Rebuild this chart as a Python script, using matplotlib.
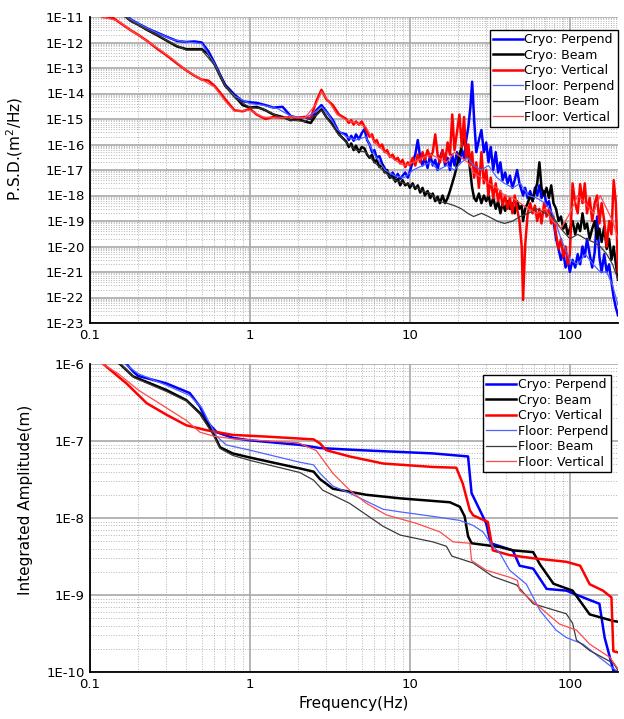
import matplotlib
matplotlib.use("Agg")
import matplotlib.pyplot as plt
from matplotlib.ticker import LogLocator, FixedLocator, FuncFormatter, NullFormatter
import numpy as np

plt.rcParams['font.family'] = ['DejaVu Sans']

labels = ["Cryo: Perpend", "Cryo: Beam", "Cryo: Vertical",
          "Floor: Perpend", "Floor: Beam", "Floor: Vertical"]

# ---- PSD (top), cryostat: low and high frequency parts ----
psd_f_cryo_lo = [0.12, 0.14, 0.16, 0.18, 0.2, 0.23, 0.26, 0.3, 0.35, 0.4, 0.45, 0.5, 0.55, 0.6,
                 0.65, 0.7, 0.8, 0.9, 1.0, 1.1, 1.25, 1.4, 1.6, 1.8, 2.0, 2.2, 2.4, 2.6, 2.8,
                 3.0, 3.3, 3.6]
psd_f_cryo_hi = [4.0, 4.15, 4.3, 4.45, 4.6, 4.8, 5.0, 5.2, 5.4, 5.6, 5.8, 6.0, 6.2, 6.45, 6.7,
                 6.95, 7.2, 7.5, 7.8, 8.1, 8.4, 8.7, 9.0, 9.35, 9.7, 10.0,
                 10.4, 10.8, 11.2, 11.6, 12.0, 12.4, 12.9, 13.4, 13.9, 14.4, 14.9, 15.4, 16.0,
                 16.6, 17.2, 17.8, 18.4, 19.0, 19.7, 20.4,
                 21.1, 21.8, 22.5, 23.2, 23.9, 24.5, 25.2, 26.0, 27.0, 28.0, 29.0, 30.0,
                 31, 32, 33.2, 34.4, 35.6, 36.8, 38, 39.4, 40.8, 42.2, 43.7, 45.2, 46.8, 48.4, 50,
                 51, 52.5, 54.5, 56.5, 58.5, 60.5, 62.5, 64.5, 66.5, 69, 71.5, 74, 76.5, 79, 82,
                 85, 88, 91, 94, 97, 100,
                 104, 108, 112, 116, 120, 124, 128, 133, 138, 143, 148, 153, 158, 164, 170, 176,
                 182, 188, 194, 200]

psd_cryo_perp_lo = [3e-11, 2.5e-11, 1.6e-11, 8e-12, 5.5e-12, 3.5e-12, 2.5e-12, 1.7e-12, 1.15e-12,
                    1.05e-12, 1.1e-12, 1.0e-12, 4.5e-13, 1.6e-13, 5.5e-14, 2.2e-14, 9e-15, 5e-15,
                    4.5e-15, 4.3e-15, 3.5e-15, 2.8e-15, 3e-15, 1.3e-15, 1.1e-15, 1.2e-15, 1.0e-15,
                    2.2e-15, 3.5e-15, 2e-15, 9e-16, 3e-16]
psd_cryo_perp_hi = [2.5e-16, 1.5e-16, 2.2e-16, 1.4e-16, 2.5e-16, 1.6e-16, 2.8e-16, 4e-16, 1.5e-16,
                    1e-16, 5e-17, 6e-17, 3e-17, 3.5e-17, 1.8e-17, 1.2e-17, 8e-18, 5e-18, 8e-18,
                    5e-18, 7e-18, 4.5e-18, 6e-18, 8e-18, 5e-18, 9e-18,
                    2e-17, 4e-17, 1.5e-16, 3e-17, 1.5e-17, 3e-17, 1.2e-17, 4e-17, 1.5e-17, 2.5e-17,
                    1e-17, 3e-17, 6e-17, 1.5e-17, 3e-17, 1e-17, 4e-17, 1.5e-17, 5e-17, 2e-17,
                    6e-17, 3e-17, 1.5e-16, 5e-16, 3e-15, 2.9e-14, 1e-15, 5e-17, 1.5e-16, 3.7e-16,
                    5e-17, 1.2e-16,
                    2e-17, 8e-17, 1e-17, 5e-17, 8e-18, 2e-17, 4e-18, 8e-18, 3e-18, 6e-18, 2e-18,
                    4e-18, 1e-17, 3e-18, 1.5e-18,
                    1e-18, 2e-18, 8e-19, 1.5e-18, 6e-19, 2e-18, 1e-18, 2.5e-18, 8e-19, 1.5e-18,
                    4e-19, 6e-19, 2e-19, 1e-19, 2e-20, 8e-21, 3e-21, 6e-21, 1.5e-21, 3e-21, 1e-21,
                    3e-21, 1.5e-21, 5e-21, 2e-21, 1e-20, 4e-21, 2e-20, 5e-21, 1.5e-21, 6e-21,
                    1.5e-19, 4e-21, 1e-21, 5e-21, 1e-21, 2e-21, 4e-22, 1e-22, 4e-23, 2e-23]

psd_cryo_beam_lo = [3e-11, 2e-11, 1.3e-11, 7e-12, 5e-12, 3e-12, 2e-12, 1.2e-12, 7e-13, 5.5e-13,
                    5.5e-13, 5.5e-13, 3.5e-13, 1.4e-13, 5e-14, 2e-14, 8e-15, 3.5e-15, 2.8e-15,
                    3e-15, 2.2e-15, 1.5e-15, 1.2e-15, 9e-16, 1e-15, 8e-16, 7e-16, 1.5e-15, 2.4e-15,
                    1.2e-15, 6e-16, 2.5e-16]
psd_cryo_beam_hi = [1.3e-16, 8e-17, 1.1e-16, 6e-17, 9e-17, 5e-17, 8e-17, 7e-17, 4e-17, 3e-17,
                    4e-17, 2e-17, 2.5e-17, 1.3e-17, 1.6e-17, 8e-18, 1e-17, 5e-18, 6e-18, 3.5e-18,
                    4.5e-18, 2.5e-18, 4e-18, 2.5e-18, 3e-18, 2e-18,
                    3e-18, 1.8e-18, 2.5e-18, 1.3e-18, 2e-18, 1e-18, 1.5e-18, 8e-19, 1.2e-18, 6e-19,
                    9e-19, 5e-19, 1e-18, 5e-19, 8e-19, 1.5e-18, 3e-18, 6e-18, 1.5e-17, 4e-17,
                    8e-17, 1.7e-16, 1e-16, 4e-17, 8e-18, 2e-18, 8e-19, 6e-19, 1.2e-18, 5e-19, 1e-18,
                    6e-19,
                    1e-18, 4e-19, 8e-19, 3e-19, 6e-19, 2e-19, 5e-19, 2.5e-19, 6e-19, 3e-19,
                    5e-19, 2e-19, 6e-19, 3e-19, 4e-19,
                    1e-19, 3e-19, 5e-19, 1e-18, 6e-19, 1.5e-18, 3e-18, 2e-17, 2e-18, 1e-18, 2e-18,
                    8e-19, 2.5e-18, 5e-19, 3e-19, 1e-19, 1.5e-19, 5e-20, 8e-20, 3e-20, 5e-20,
                    1e-19, 3e-20, 8e-20, 4e-20, 2e-19, 5e-20, 8e-20, 2e-20, 5e-20, 1e-19, 2e-20,
                    5e-20, 1.5e-20, 6e-20, 8e-21, 2e-20, 3e-21, 1e-20, 2e-21, 5e-22]

psd_cryo_vert_lo = [1e-11, 9e-12, 5e-12, 3e-12, 2e-12, 1.1e-12, 6e-13, 3.2e-13, 1.5e-13, 8e-14,
                    5e-14, 3.5e-14, 3.2e-14, 2e-14, 1.1e-14, 6e-15, 2.2e-15, 2e-15, 2.5e-15,
                    1.5e-15, 1e-15, 1.2e-15, 1.1e-15, 1.2e-15, 1.1e-15, 1.2e-15, 1.1e-15, 5e-15,
                    1.4e-14, 6e-15, 3.5e-15, 1.5e-15]
psd_cryo_vert_hi = [1e-15, 7e-16, 9e-16, 6e-16, 8e-16, 6e-16, 8e-16, 5e-16, 3e-16, 2e-16,
                    2.5e-16, 1.2e-16, 1.5e-16, 8e-17, 1e-16, 5e-17, 6e-17, 3.3e-17, 4e-17, 2.5e-17,
                    3e-17, 1.8e-17, 2.5e-17, 1.3e-17, 2e-17, 1.5e-17,
                    3e-17, 1.5e-17, 4e-17, 2e-17, 5e-17, 2.5e-17, 6e-17, 3e-17, 5e-17, 2.5e-16,
                    4e-17, 2e-17, 6e-17, 2e-17, 1.2e-16, 4e-17, 1.5e-15, 6e-17, 3e-16, 1.5e-15,
                    8e-17, 1.2e-15, 3e-17, 1e-16, 1.5e-17, 5e-17, 5e-18, 2e-17, 2e-18, 5e-17,
                    3e-18, 1e-17,
                    1e-18, 5e-18, 8e-19, 3e-18, 6e-19, 1.5e-18, 4e-19, 1e-18, 3e-19, 8e-19, 2e-19,
                    1e-18, 3e-19, 1e-19, 1e-20,
                    8e-23, 1e-20, 2e-19, 5e-19, 2e-19, 4e-19, 1e-19, 3e-19, 8e-20, 5e-19, 1.5e-19,
                    3e-19, 8e-20, 1.5e-19, 3e-20, 8e-21, 2e-20, 4e-21, 1e-20, 2e-21, 5e-21,
                    3e-18, 5e-19, 2e-19, 2.8e-18, 5e-19, 3e-18, 2e-19, 8e-19, 1e-19, 5e-19, 1e-18,
                    8e-20, 5e-19, 1e-19, 1e-20, 1e-19, 3e-20, 4e-18, 5e-19, 1e-21]

# ---- PSD (top), floor ----
psd_f_floor = [0.12, 0.15, 0.18, 0.22, 0.27, 0.33, 0.4, 0.5, 0.6, 0.7, 0.8, 1.0, 1.2, 1.5, 1.8,
               2.2, 2.6, 2.8, 3.1, 3.5, 4.0, 4.6, 5.3, 6.0, 7.0, 8.0, 9.2, 10.5, 12, 13.5, 15,
               17, 19, 21, 23, 25, 28, 31, 35, 39, 44, 49, 55, 62, 70, 78, 88, 100, 112, 125,
               140, 155, 170, 185, 200]

psd_floor_perp = [2.5e-11, 1.8e-11, 8e-12, 4e-12, 2.2e-12, 1.3e-12, 1.05e-12, 9e-13, 1.5e-13,
                  2e-14, 8e-15, 4e-15, 3.5e-15, 2.5e-15, 1.3e-15, 1.1e-15, 2e-15, 3e-15,
                  1.5e-15, 4e-16, 2e-16, 1.5e-16, 2e-16, 4e-17, 1e-17, 6e-18, 5e-18, 1e-17,
                  1.5e-17, 2e-17, 1e-17, 1.5e-17, 1e-17, 2e-17, 3e-17, 1.5e-17, 1e-17, 1.5e-17,
                  5e-18, 3e-18, 2e-18, 3e-18, 1e-18, 8e-19, 5e-19, 2e-19, 2e-20, 3e-21, 2e-21,
                  5e-21, 2e-21, 1e-21, 1e-21, 3e-22, 5e-23]

psd_floor_beam = [2.5e-11, 1.6e-11, 7e-12, 3.5e-12, 1.8e-12, 9e-13, 5e-13, 5e-13, 1.3e-13,
                  2e-14, 7e-15, 2.8e-15, 2.5e-15, 1.3e-15, 9e-16, 8e-16, 1.4e-15, 2.2e-15,
                  9e-16, 3e-16, 1.2e-16, 6e-17, 5e-17, 2e-17, 8e-18, 4e-18, 3e-18, 2.5e-18,
                  1.5e-18, 1.2e-18, 6e-19, 5e-19, 4e-19, 3e-19, 2e-19, 1.5e-19, 2e-19, 1.5e-19,
                  1e-19, 8e-20, 1e-19, 1.5e-19, 2e-19, 3e-19, 2e-19, 1.5e-19, 5e-20, 2e-20,
                  3e-20, 2e-20, 1.5e-20, 1e-20, 5e-21, 2e-21, 5e-22]

psd_floor_vert = [1e-11, 7e-12, 3e-12, 1.3e-12, 5.5e-13, 2.2e-13, 8e-14, 3.5e-14, 1.8e-14,
                  5e-15, 2e-15, 2.2e-15, 1.2e-15, 1.1e-15, 1.2e-15, 1.1e-15, 4e-15, 1.2e-14,
                  5e-15, 1.5e-15, 9e-16, 7e-16, 5e-16, 1.2e-16, 5e-17, 2.5e-17, 1.5e-17, 2e-17,
                  3e-17, 4e-17, 3e-17, 2e-17, 5e-17, 3e-17, 2e-17, 8e-18, 5e-18, 3e-18, 2e-18,
                  1e-18, 8e-19, 5e-19, 3e-19, 2e-19, 3e-19, 1e-19, 5e-20, 2e-19, 1e-18, 5e-19,
                  2e-19, 1e-18, 3e-19, 1e-19, 2e-20]

# ---- Integrated amplitude (bottom) ----
ia_f_cryo_perp = [0.12, 0.15, 0.169, 0.187, 0.2, 0.25, 0.3, 0.42, 0.487, 0.536, 0.62, 0.78,
                  1.0, 2.05, 2.74, 4.87, 13.9, 23.1, 24.3, 27.4, 30, 32, 44, 48.5, 59, 71.6,
                  95, 126, 153, 165, 187, 200]
ia_cryo_perp = [2e-6, 1.3e-6, 1e-6, 7.9e-7, 7e-7, 6.2e-7, 5.6e-7, 4.2e-7, 2.8e-7, 1.8e-7,
                1.3e-7, 1.1e-7, 1.02e-7, 8.9e-8, 8.1e-8, 7.6e-8, 6.9e-8, 6.3e-8, 2.1e-8,
                1.26e-8, 8.5e-9, 4.7e-9, 3.8e-9, 2.4e-9, 2.2e-9, 1.2e-9, 1.14e-9, 9e-10,
                7.7e-10, 2.8e-10, 1.05e-10, 1e-10]

ia_f_cryo_beam = [0.12, 0.154, 0.186, 0.3, 0.40, 0.487, 0.59, 0.65, 0.78, 1.0, 2.05, 2.5,
                  2.74, 3.3, 5.35, 8.7, 17.8, 20.5, 22, 23.1, 24.3, 36.5, 44, 59, 65, 79, 104,
                  133, 187, 200]
ia_cryo_beam = [1.6e-6, 1e-6, 6.9e-7, 4.6e-7, 3.4e-7, 2.3e-7, 1.26e-7, 8.3e-8, 6.9e-8, 6.1e-8,
                4.4e-8, 4e-8, 3.2e-8, 2.4e-8, 2e-8, 1.8e-8, 1.6e-8, 1.4e-8, 1.05e-8, 5.8e-9,
                4.7e-9, 4.2e-9, 3.8e-9, 3.6e-9, 2.5e-9, 1.4e-9, 1.14e-9, 5.6e-10, 4.6e-10,
                4.5e-10]

ia_f_cryo_vert = [0.121, 0.169, 0.226, 0.3, 0.40, 0.536, 0.78, 1.27, 2.5, 2.74, 3.0, 4.2,
                  6.8, 13.9, 19.5, 21.4, 23.7, 24.9, 30.7, 33, 42, 59, 95, 116, 133, 161, 182,
                  187, 200]
ia_cryo_vert = [1e-6, 5.6e-7, 3.1e-7, 2.2e-7, 1.6e-7, 1.38e-7, 1.2e-7, 1.14e-7, 1.05e-7,
                9.3e-8, 7.6e-8, 6.3e-8, 5.1e-8, 4.6e-8, 4.5e-8, 2.8e-8, 1.26e-8, 1.08e-8,
                8.9e-9, 3.8e-9, 3.3e-9, 3e-9, 2.7e-9, 2.4e-9, 1.38e-9, 1.14e-9, 9.3e-10,
                1.86e-10, 1.8e-10]

ia_f_floor_perp = [0.12, 0.16, 0.2, 0.3, 0.42, 0.5, 0.56, 0.62, 0.71, 1.0, 2.05, 2.5, 2.74,
                   3.3, 4.2, 6.8, 8.7, 13.9, 20.5, 24.9, 28.6, 33, 36.5, 42, 53.5, 65, 82, 95,
                   121, 153, 200]
ia_floor_perp = [1.6e-6, 1.05e-6, 7.5e-7, 5.3e-7, 3.9e-7, 2.7e-7, 1.7e-7, 1.15e-7, 8.9e-8,
                 7.6e-8, 5.3e-8, 4.9e-8, 3.8e-8, 2.6e-8, 2.1e-8, 1.3e-8, 1.2e-8, 1.05e-8,
                 9.3e-9, 8e-9, 6.6e-9, 4.3e-9, 3.5e-9, 2.1e-9, 1.38e-9, 6.3e-10, 3.5e-10,
                 2.8e-10, 2.3e-10, 1.55e-10, 1.0e-10]

ia_f_floor_beam = [0.12, 0.155, 0.19, 0.3, 0.4, 0.49, 0.59, 0.65, 0.78, 1.0, 2.05, 2.5, 2.85,
                   4.2, 6.8, 8.7, 13.9, 16.9, 18.3, 24.9, 33, 46.5, 59, 95, 104, 110, 133, 187,
                   200]
ia_floor_beam = [1.5e-6, 1e-6, 6.6e-7, 4.4e-7, 3.3e-7, 2.2e-7, 1.2e-7, 8e-8, 6.5e-8, 5.6e-8,
                 3.9e-8, 3.1e-8, 2.3e-8, 1.55e-8, 7.8e-9, 6e-9, 4.9e-9, 4.3e-9, 3.2e-9, 2.6e-9,
                 1.74e-9, 1.35e-9, 7.7e-10, 5.7e-10, 4.3e-10, 2.6e-10, 1.9e-10, 1.3e-10,
                 1.05e-10]

ia_f_floor_vert = [0.12, 0.15, 0.2, 0.3, 0.4, 0.487, 0.6, 0.78, 1.3, 2.0, 2.6, 3.3, 4.2, 5.35,
                   7.1, 11, 15.4, 18.6, 23.7, 24.3, 30, 42, 47, 48.5, 65, 86, 110, 133, 178, 200]
ia_floor_vert = [1e-6, 7.5e-7, 4.6e-7, 2.7e-7, 1.85e-7, 1.3e-7, 1.15e-7, 1.07e-7, 1.0e-7,
                 9.5e-8, 7.5e-8, 3.8e-8, 2.3e-8, 1.55e-8, 1.1e-8, 8.5e-9, 6.6e-9, 4.9e-9,
                 4.7e-9, 2.8e-9, 2.1e-9, 1.7e-9, 1.55e-9, 1.15e-9, 6.9e-10, 4.2e-10, 3.5e-10,
                 2.3e-10, 1.55e-10, 1.1e-10]

freq_ticks = [0.1, 1, 10, 100]
psd_ticks = [1e-23, 1e-22, 1e-21, 1e-20, 1e-19, 1e-18, 1e-17, 1e-16, 1e-15, 1e-14, 1e-13,
             1e-12, 1e-11]
ia_ticks = [1e-10, 1e-9, 1e-8, 1e-7, 1e-6]

colors = ['#0000ff', '#000000', '#ff0000', '#4f64ff', '#3a3a3a', '#ff4a4a']
widths = [1.8, 1.8, 1.8, 0.9, 0.9, 0.9]

psd_series = [(psd_f_cryo_lo + psd_f_cryo_hi, psd_cryo_perp_lo + psd_cryo_perp_hi),
              (psd_f_cryo_lo + psd_f_cryo_hi, psd_cryo_beam_lo + psd_cryo_beam_hi),
              (psd_f_cryo_lo + psd_f_cryo_hi, psd_cryo_vert_lo + psd_cryo_vert_hi),
              (psd_f_floor, psd_floor_perp), (psd_f_floor, psd_floor_beam),
              (psd_f_floor, psd_floor_vert)]
ia_series = [(ia_f_cryo_perp, ia_cryo_perp), (ia_f_cryo_beam, ia_cryo_beam),
             (ia_f_cryo_vert, ia_cryo_vert), (ia_f_floor_perp, ia_floor_perp),
             (ia_f_floor_beam, ia_floor_beam), (ia_f_floor_vert, ia_floor_vert)]


def exp_fmt(v, pos):
    return "1E%d" % int(round(np.log10(v)))


def style_axes(ax, yticks):
    ax.set_xscale('log')
    ax.set_yscale('log')
    ax.set_xlim(0.1, 200)
    ax.set_ylim(yticks[0], yticks[-1])
    ax.xaxis.set_major_locator(FixedLocator(freq_ticks))
    ax.yaxis.set_major_locator(FixedLocator(yticks))
    ax.xaxis.set_minor_locator(LogLocator(base=10, subs=np.arange(2, 10), numticks=100))
    ax.yaxis.set_minor_locator(LogLocator(base=10, subs=np.arange(2, 10), numticks=200))
    ax.xaxis.set_minor_formatter(NullFormatter())
    ax.yaxis.set_minor_formatter(NullFormatter())
    ax.xaxis.set_major_formatter(FuncFormatter(lambda v, p: "%g" % v))
    ax.yaxis.set_major_formatter(FuncFormatter(exp_fmt))
    ax.grid(which='major', color='#a8a8a8', linewidth=1.2, linestyle='-')
    ax.grid(which='minor', color='#b4b4b4', linewidth=0.7, linestyle=':')
    ax.set_axisbelow(True)
    for s in ['top', 'right']:
        ax.spines[s].set_visible(False)
    for s in ['left', 'bottom']:
        ax.spines[s].set_linewidth(1.3)
    ax.tick_params(which='both', direction='in', length=0, labelsize=9.5, pad=4)


def add_legend(ax, anchor):
    leg = ax.legend(loc='upper right', bbox_to_anchor=anchor, borderaxespad=0,
                    fancybox=False, edgecolor='black', framealpha=1, fontsize=9,
                    handlelength=2.4, handletextpad=0.1, labelspacing=0.2, borderpad=0.25)
    leg.get_frame().set_linewidth(1.0)


fig = plt.figure(figsize=(6.24, 7.19), dpi=100)

ax1 = fig.add_axes([90 / 624, 1 - 323 / 719, 528 / 624, 306 / 719])
for (f, v), lab, c, w in zip(psd_series, labels, colors, widths):
    ax1.plot(f, v, color=c, lw=w, label=lab)
style_axes(ax1, psd_ticks)
ax1.set_ylabel("P.S.D.(m$^2$/Hz)", fontsize=11)
ax1.yaxis.set_label_coords(-0.123, 0.569)
add_legend(ax1, (1.0, 0.957))

ax2 = fig.add_axes([90 / 624, 1 - 672 / 719, 528 / 624, 308 / 719])
for (f, v), lab, c, w in zip(ia_series, labels, colors, widths):
    ax2.plot(f, v, color=c, lw=w, label=lab)
style_axes(ax2, ia_ticks)
ax2.set_ylabel("Integrated Amplitude(m)", fontsize=11)
ax2.yaxis.set_label_coords(-0.108, 0.558)
ax2.set_xlabel("Frequency(Hz)", fontsize=11)
add_legend(ax2, (0.987, 0.964))

fig.savefig("out.png", dpi=100)
